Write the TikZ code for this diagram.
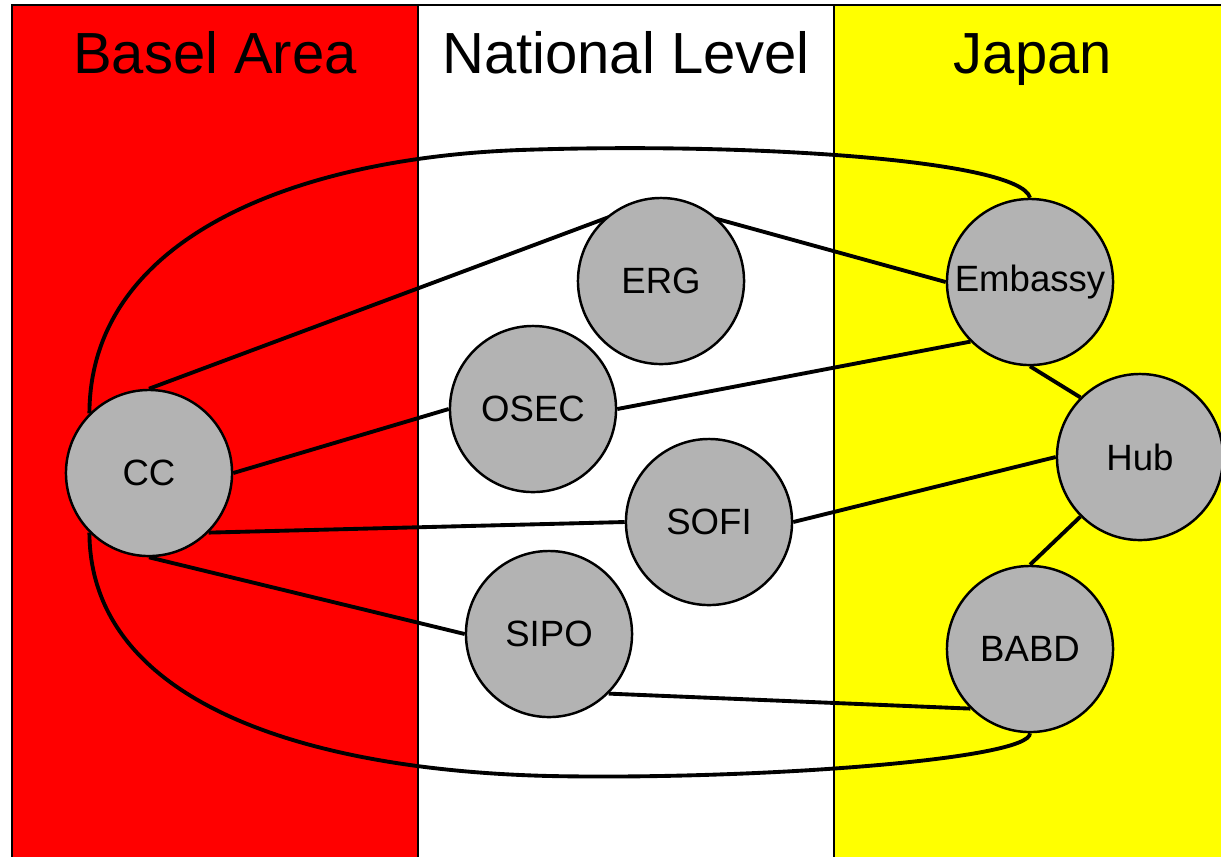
\documentclass[tikz,border=0pt]{standalone}
\usepackage{fontspec}
\setmainfont{Liberation Sans}
\usetikzlibrary{calc}
\pgfdeclarelayer{back}
\pgfdeclarelayer{edges}
\pgfsetlayers{back,edges,main}
\definecolor{nodegray}{RGB}{179,179,179}
\definecolor{baselred}{RGB}{255,0,0}
\definecolor{japanyellow}{RGB}{255,255,0}

\begin{document}
\begin{tikzpicture}[x=0.01cm, y=-0.01cm, region/.style={draw, line width=0.6pt}, title/.style={anchor=base, font=\fontsize{16.5}{20}\selectfont}, org/.style={draw, circle, fill=nodegray, minimum size=1.66cm, inner sep=0pt, line width=0.7pt, font=\fontsize{10.4}{12}\selectfont}, link/.style={line width=1.1pt}]
        \useasboundingbox (0,0) rectangle (1221,856);
        % columns
        \begin{pgfonlayer}{back}
        \draw[region, fill=baselred] (12,5) rectangle (418,900);
        \draw[region, fill=white] (418,5) rectangle (834,900);
        \draw[region, fill=japanyellow] (834,5) rectangle (1240,900);
        \end{pgfonlayer}
        \node[title] (basel) at (215,73) {Basel Area};
        \node[title] (national) at (626,73) {National Level};
        \node[title] (japan) at (1033,73) {Japan};
        % nodes
        \node[org] (CC) at (149,473) {CC};
        \node[org] (ERG) at (661,281) {ERG};
        \node[org] (OSEC) at (533,409) {OSEC};
        \node[org] (SOFI) at (709,522) {SOFI};
        \node[org] (SIPO) at (549,634) {SIPO};
        \node[org] (Embassy) at (1030,282) {Embassy};
        \node[org] (Hub) at (1140,457) {Hub};
        \node[org] (BABD) at (1030,649) {BABD};
        % edges
        \begin{pgfonlayer}{edges}
        \draw[link] (CC.north) -- ($(ERG.center)+(-9,-80)$) -- (Embassy.west);
        \draw[link] (CC.east) -- (OSEC.west);
        \draw[link] (OSEC.east) -- (Embassy.south west);
        \draw[link] (CC.south east) -- (SOFI.west);
        \draw[link] (SOFI.east) -- (Hub.west);
        \draw[link] (CC.south) -- (SIPO.west);
        \draw[link] (SIPO.south east) -- (BABD.south west);
        \draw[link] (Embassy.south) -- (Hub.north west);
        \draw[link] (Hub.south west) -- (BABD.north);
        \draw[link] (CC.north west) .. controls (90,235) and (300,158) .. (520,150) .. controls (750,142) and (1020,160) .. (Embassy.north);
        \draw[link] (CC.south west) .. controls (90,700) and (300,770) .. (550,776) .. controls (750,780) and (1030,760) .. (BABD.south);
        \end{pgfonlayer}
    \end{tikzpicture}
\end{document}
